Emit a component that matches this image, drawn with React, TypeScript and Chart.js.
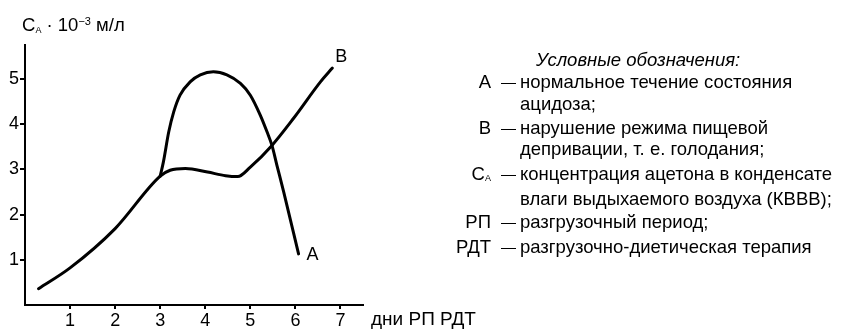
import React, { useEffect, useRef } from "react";
import { Chart, registerables } from "chart.js";
Chart.register(...registerables);

// Common rising part (shared by both curves) followed by curve B
const curveBX = [0.3, 1, 2, 3, 3.22, 3.56, 4.05, 4.45, 4.72, 5.0, 5.48, 5.96, 6.56, 6.82];
const curveBY = [0.36, 0.82, 1.69, 2.85, 2.98, 3.02, 2.94, 2.86, 2.84, 3.05, 3.53, 4.13, 4.94, 5.24];
// Curve A branches off at day 3
const curveAX = [3, 3.07, 3.19, 3.3, 3.44, 3.67, 3.89, 4.18, 4.48, 4.78, 5.0, 5.22, 5.37, 5.48, 5.59, 5.74, 6.07];
const curveAY = [2.85, 3.16, 3.83, 4.27, 4.64, 4.94, 5.09, 5.16, 5.09, 4.9, 4.64, 4.2, 3.83, 3.53, 3.09, 2.5, 1.13];
const xTicks = [1, 2, 3, 4, 5, 6, 7];
const yTicks = [1, 2, 3, 4, 5];
const seriesNames = ["A", "B"];

const legendTitle = "Условные обозначения:";
const legendLines: { key?: string; sub?: string; text: string }[] = [
  { key: "А", text: "нормальное течение состояния" },
  { text: "ацидоза;" },
  { key: "В", text: "нарушение режима пищевой" },
  { text: "депривации, т. е. голодания;" },
  { key: "С", sub: "А", text: "концентрация ацетона в конденсате" },
  { text: "влаги выдыхаемого воздуха (КВВВ);" },
  { key: "РП", text: "разгрузочный период;" },
  { key: "РДТ", text: "разгрузочно-диетическая терапия" },
];

const FONT = "'Liberation Sans', Arial, sans-serif";

function pts(xs: number[], ys: number[]) {
  return xs.map((x, i) => ({ x, y: ys[i] }));
}

const labelPlugin = {
  id: "endLabels",
  afterDatasetsDraw(chart: any) {
    const ctx = chart.ctx;
    ctx.save();
    ctx.fillStyle = "#000";
    ctx.font = `18px ${FONT}`;
    ctx.textBaseline = "middle";
    chart.data.datasets.forEach((ds: any, i: number) => {
      const meta = chart.getDatasetMeta(i);
      const last = meta.data[meta.data.length - 1];
      if (!last) return;
      if (ds.label === "A") ctx.fillText(ds.label, last.x + 8, last.y + 1);
      else ctx.fillText(ds.label, last.x + 3, last.y - 11);
    });
    ctx.restore();
  },
};

export default function App() {
  const ref = useRef<HTMLCanvasElement>(null);
  useEffect(() => {
    if (!ref.current) return;
    const common = {
      borderColor: "#000",
      borderWidth: 3,
      pointRadius: 0,
      cubicInterpolationMode: "monotone",
      fill: false,
      borderCapStyle: "round",
      borderJoinStyle: "round",
    };
    const chart = new Chart(ref.current, {
      type: "line",
      data: {
        datasets: [
          { ...common, label: seriesNames[0], data: pts(curveAX, curveAY) },
          { ...common, label: seriesNames[1], data: pts(curveBX, curveBY) },
        ],
      },
      options: {
        animation: false,
        responsive: false,
        maintainAspectRatio: false,
        layout: { padding: { left: 0, top: 45, right: 478, bottom: 0 } },
        plugins: { legend: { display: false }, tooltip: { enabled: false } },
        scales: {
          x: {
            type: "linear",
            min: 0,
            max: 7.5,
            afterFit: (s: any) => { s.height = 24; },
            afterBuildTicks: (s: any) => { s.ticks = xTicks.map((v) => ({ value: v })); },
            border: { display: true, color: "#000", width: 2 },
            grid: { drawOnChartArea: false, drawTicks: true, tickLength: 4, color: "#000", lineWidth: 2 },
            ticks: { color: "#000", font: { family: FONT, size: 18 }, padding: 1 },
          },
          y: {
            type: "linear",
            min: 0,
            max: 5.75,
            afterFit: (s: any) => { s.width = 25; },
            afterBuildTicks: (s: any) => { s.ticks = yTicks.map((v) => ({ value: v })); },
            border: { display: true, color: "#000", width: 2 },
            grid: { drawOnChartArea: false, drawTicks: true, tickLength: 5, color: "#000", lineWidth: 2 },
            ticks: { color: "#000", font: { family: FONT, size: 18 }, padding: 1 },
          },
        },
      },
      plugins: [labelPlugin],
    } as any);
    return () => chart.destroy();
  }, []);

  const lineCenters = [82, 104, 128, 149, 174, 199, 222, 247];
  const fs = 18.5;
  return (
    <div style={{ position: "fixed", left: 0, top: 0, width: 841, height: 329, background: "#fff", fontFamily: FONT, color: "#000" }}>
      <canvas ref={ref} width={841} height={329} style={{ position: "absolute", left: 0, top: 0 }} />
      <div style={{ position: "absolute", left: 22, top: 9, fontSize: 18.5, lineHeight: "24px", whiteSpace: "nowrap" }}>
        C<sub style={{ fontSize: 9, verticalAlign: "-2px" }}>A</sub> · 10<sup style={{ fontSize: 11, verticalAlign: "6px" }}>−3</sup> м/л
      </div>
      <div style={{ position: "absolute", left: 371, top: 307, fontSize: 19, lineHeight: "24px", whiteSpace: "nowrap" }}>дни РП РДТ</div>
      <div style={{ position: "absolute", left: 536, top: 48, fontSize: fs, lineHeight: "24px", fontStyle: "italic", whiteSpace: "nowrap" }}>
        {legendTitle}
      </div>
      {legendLines.map((r, i) => (
        <div key={i} style={{ position: "absolute", left: 0, top: lineCenters[i] - 12, height: 24, fontSize: fs, lineHeight: "24px", whiteSpace: "nowrap" }}>
          {r.key ? (
            <span style={{ position: "absolute", left: 380, width: 111, textAlign: "right" }}>
              {r.key}
              {r.sub ? <sub style={{ fontSize: 9, verticalAlign: "-1px" }}>{r.sub}</sub> : null}
            </span>
          ) : null}
          {r.key ? <span style={{ position: "absolute", left: 501, fontSize: 15 }}>—</span> : null}
          <span style={{ position: "absolute", left: 520 }}>{r.text}</span>
        </div>
      ))}
    </div>
  );
}
